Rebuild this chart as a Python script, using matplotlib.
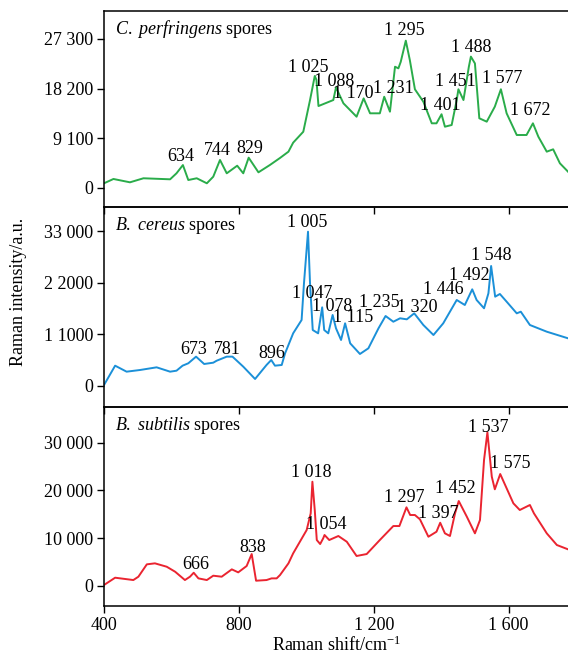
import numpy as np
import matplotlib
matplotlib.use('Agg')
import matplotlib.pyplot as plt

plt.rcParams['font.family'] = ['Liberation Serif', 'DejaVu Serif']
plt.rcParams['mathtext.fontset'] = 'custom'
plt.rcParams['mathtext.rm'] = 'Liberation Serif'
plt.rcParams['mathtext.it'] = 'Liberation Serif:italic'

# C. perfringens spectrum (Raman shift cm-1, intensity a.u.)
cp_shift = [400, 428, 477, 517, 596, 615, 634, 650, 675, 705, 724, 744, 764, 795, 813, 829, 858,
            892, 922, 947, 961, 991, 1011, 1025, 1030, 1036, 1080, 1088, 1110, 1149, 1170, 1189,
            1218, 1231, 1248, 1263, 1273, 1280, 1295, 1307, 1322, 1347, 1372, 1386, 1401, 1411,
            1431, 1446, 1451, 1466, 1482, 1488, 1500, 1513, 1535, 1559, 1577, 1594, 1624, 1653,
            1672, 1688, 1713, 1732, 1752, 1776]
cp_int = [860, 1650, 1040, 1780, 1590, 2690, 4200, 1460, 1780, 860, 2070, 5130, 2690, 4080, 2690,
          5550, 2870, 4210, 5500, 6650, 8300, 10300, 16100, 20500, 19800, 15000, 16100, 18400, 15500,
          13050, 16400, 13670, 13670, 16700, 13970, 22200, 21900, 23100, 26970, 23400, 18070, 15800,
          11840, 11840, 13500, 11220, 11530, 16100, 18070, 16100, 22200, 24050, 22800, 12760, 12140,
          14890, 18070, 13670, 9700, 9700, 11840, 9400, 6650, 7080, 4520, 2990]

# B. cereus spectrum
bc_shift = [400, 433, 467, 507, 556, 596, 615, 633, 650, 673, 697, 724, 734, 764, 781, 813, 848,
            882, 896, 907, 927, 937, 961, 986, 993, 1005, 1011, 1019, 1035, 1047, 1053, 1065, 1078,
            1088, 1103, 1115, 1130, 1159, 1184, 1214, 1235, 1258, 1278, 1298, 1320, 1347, 1377,
            1406, 1446, 1470, 1492, 1505, 1527, 1540, 1548, 1560, 1574, 1594, 1624, 1636, 1663,
            1713, 1776]
bc_int = [210, 4340, 3060, 3420, 3990, 3060, 3270, 4340, 4850, 6270, 4700, 4980, 5400, 6270, 6270,
          4130, 1500, 4490, 5550, 4340, 4490, 6980, 11260, 14100, 21900, 32960, 21900, 11960, 11250,
          16800, 11960, 11250, 15170, 12320, 9830, 13390, 9120, 6840, 8050, 12320, 14950, 13730,
          14460, 14240, 15520, 13030, 10890, 13390, 18370, 17300, 20650, 18370, 16600, 19800, 25630,
          19080, 19650, 18010, 15520, 15870, 13030, 11600, 10190]

# B. subtilis spectrum
bs_shift = [400, 433, 487, 502, 527, 551, 586, 611, 640, 655, 666, 680, 705, 724, 749, 779, 798,
            823, 838, 851, 882, 897, 912, 922, 947, 961, 1001, 1013, 1018, 1025, 1031, 1041, 1050,
            1054, 1068, 1095, 1120, 1149, 1179, 1218, 1258, 1276, 1297, 1308, 1322, 1337, 1362,
            1386, 1397, 1411, 1426, 1441, 1452, 1476, 1500, 1515, 1527, 1537, 1550, 1559, 1575,
            1594, 1614, 1633, 1663, 1675, 1713, 1743, 1776]
bs_int = [150, 1680, 1190, 1890, 4480, 4690, 3980, 2930, 1190, 1890, 2720, 1540, 1190, 2100, 1890,
          3430, 2800, 4130, 6640, 1050, 1190, 1540, 1540, 2240, 4690, 6790, 11670, 15170, 21800,
          15870, 9580, 8740, 9930, 10630, 9580, 10420, 9220, 6230, 6640, 9580, 12510, 12510, 16430,
          14820, 14820, 13910, 10270, 11320, 13200, 10980, 10420, 15170, 17750, 14460, 10980, 13770,
          26350, 32150, 22850, 20210, 23410, 20420, 17270, 15870, 16920, 15170, 10980, 8530, 7630]

# Peak labels: text, x centre, baseline height
cp_peaks = ['634', '744', '829', '1 025', '1 088', '1 170', '1 231', '1 295', '1 401', '1 451',
            '1 488', '1 577', '1 672']
cp_lab_x = [628, 735, 831, 1006, 1083, 1138, 1258, 1290, 1396, 1443, 1489, 1582, 1664]
cp_lab_y = [5000, 6040, 6350, 21300, 18680, 16420, 17450, 28010, 14280, 18680, 24960, 19170, 13370]

bc_peaks = ['673', '781', '896', '1 005', '1 047', '1 078', '1 115', '1 235', '1 320', '1 446',
            '1 492', '1 548']
bc_lab_x = [666, 765, 899, 1003, 1016, 1076, 1138, 1215, 1328, 1407, 1483, 1549]
bc_lab_y = [6840, 6840, 5910, 33890, 18730, 16090, 13740, 16800, 15880, 19650, 22640, 26910]

bs_peaks = ['666', '838', '1 018', '1 054', '1 297', '1 397', '1 452', '1 537', '1 575']
bs_lab_x = [672, 842, 1016, 1059, 1290, 1390, 1443, 1540, 1605]
bs_lab_y = [3430, 7130, 22720, 11820, 17480, 14130, 19370, 32280, 24610]

x_ticks = [400, 800, 1200, 1600]
x_tick_labels = ['400', '800', '1 200', '1 600']

panels = [
    dict(name=r'$\it{C.\ perfringens}$ spores', x=cp_shift, y=cp_int, color='#2aac4a',
         peaks=cp_peaks, lx=cp_lab_x, ly=cp_lab_y, ylim=(-3480, 32400),
         yticks=[0, 9100, 18200, 27300], ylabels=['0', '9 100', '18 200', '27 300'],
         rect=[0.1831, 0.6873, 0.8169, 0.2961]),
    dict(name=r'$\it{B.\ cereus}$ spores', x=bc_shift, y=bc_int, color='#1b90d8',
         peaks=bc_peaks, lx=bc_lab_x, ly=bc_lab_y, ylim=(-4485, 38230),
         yticks=[0, 11000, 22000, 33000], ylabels=['0', '1 1000', '2 2000', '33 000'],
         rect=[0.1831, 0.3852, 0.8169, 0.3021]),
    dict(name=r'$\it{B.\ subtilis}$ spores', x=bs_shift, y=bs_int, color='#ea2430',
         peaks=bs_peaks, lx=bs_lab_x, ly=bs_lab_y, ylim=(-4250, 37460),
         yticks=[0, 10000, 20000, 30000], ylabels=['0', '10 000', '20 000', '30 000'],
         rect=[0.1831, 0.0846, 0.8169, 0.3006]),
]

fig = plt.figure(figsize=(5.68, 6.62), dpi=100)

for i, p in enumerate(panels):
    ax = fig.add_axes(p['rect'])
    ax.plot(p['x'], p['y'], color=p['color'], lw=1.4)
    for txt, tx, ty in zip(p['peaks'], p['lx'], p['ly']):
        ax.text(tx, ty, txt, ha='center', va='baseline', fontsize=13)
    ax.text(0.024, 0.885, p['name'], transform=ax.transAxes, ha='left', va='baseline', fontsize=13)
    ax.set_xlim(400, 1776)
    ax.set_ylim(*p['ylim'])
    ax.set_yticks(p['yticks'])
    ax.set_yticklabels(p['ylabels'])
    ax.set_xticks(x_ticks)
    if i == 2:
        ax.set_xticklabels(x_tick_labels)
    else:
        ax.set_xticklabels([])
    ax.spines['right'].set_visible(False)
    for s in ['left', 'top', 'bottom']:
        ax.spines[s].set_linewidth(1.1)
    ax.tick_params(direction='out', length=5, width=1.0, labelsize=13, pad=3)
    ax.set_facecolor('none')

fig.text(0.032, 0.559, 'Raman intensity/a.u.', rotation=90, ha='center', va='center', fontsize=13)
fig.text(0.593, 0.016, r'Raman shift/cm$^{-1}$', ha='center', va='baseline', fontsize=13)

fig.savefig('out.png', dpi=100)
